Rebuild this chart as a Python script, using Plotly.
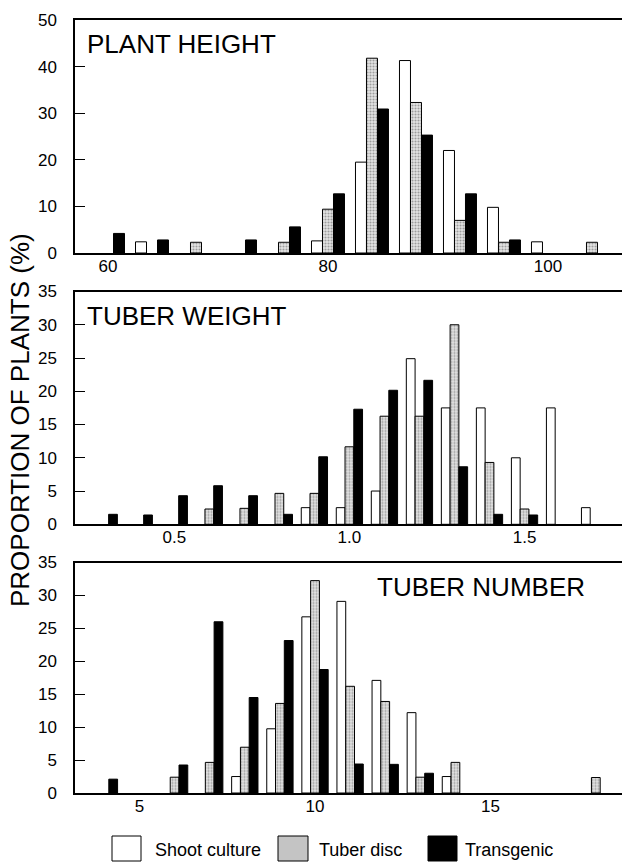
import plotly.graph_objects as go

# ---------------- data ----------------
series_names = ["Shoot culture", "Tuber disc", "Transgenic"]

height_bins = [60, 64, 68, 72, 76, 80, 84, 88, 92, 96, 100, 104]
height_shoot = [None, 2.4, None, None, None, 2.6, 19.5, 41.3, 22.0, 9.8, 2.4, None]
height_tuber = [None, None, 2.3, None, 2.3, 9.4, 41.8, 32.3, 7.0, 2.3, None, 2.3]
height_trans = [4.2, 2.8, None, 2.8, 5.6, 12.7, 30.9, 25.3, 12.7, 2.8, None, None]

weight_bins = [0.3, 0.4, 0.5, 0.6, 0.7, 0.8, 0.9, 1.0, 1.1, 1.2, 1.3, 1.4, 1.5, 1.6, 1.7]
weight_shoot = [None, None, None, None, None, None, 2.5, 2.5, 5.0, 24.9, 17.5, 17.5, 10.0, 17.5, 2.5]
weight_tuber = [None, None, None, 2.3, 2.4, 4.65, 4.65, 11.65, 16.25, 16.25, 30.0, 9.3, 2.3, None, None]
weight_trans = [1.5, 1.4, 4.3, 5.8, 4.3, 1.5, 10.15, 17.3, 20.15, 21.65, 8.65, 1.5, 1.4, None, None]

number_bins = [4, 5, 6, 7, 8, 9, 10, 11, 12, 13, 14, 15, 16, 17, 18]
number_shoot = [None, None, None, None, 2.5, 9.75, 26.75, 29.1, 17.1, 12.2, 2.5, None, None, None, None]
number_tuber = [None, None, 2.4, 4.65, 6.95, 13.6, 32.25, 16.2, 13.9, 2.4, 4.65, None, None, None, 2.35]
number_trans = [2.1, None, 4.25, 26.0, 14.5, 23.15, 18.75, 4.4, 4.35, 3.0, None, None, None, None, None]

panel_titles = ["PLANT HEIGHT", "TUBER WEIGHT", "TUBER NUMBER"]
y_title = "PROPORTION OF PLANTS (%)"

# ---------------- styling ----------------
W, H = 622, 864
ML, MR, MT, MB = 75, 0, 20, 71
PW, PH = W - ML - MR, H - MT - MB
FONT = "Liberation Sans, Arial, Helvetica, sans-serif"

def px_x(p):
    return (p - ML) / PW

def px_y(p):
    return (H - MB - p) / PH

styles = [
    dict(color="white", line=dict(color="black", width=1)),
    dict(color="#d0d0d0", line=dict(color="black", width=1),
         pattern=dict(shape=".", fgcolor="#555555", bgcolor="#e4e4e4", size=3, solidity=0.4)),
    dict(color="black", line=dict(color="black", width=1)),
]

fig = go.Figure()

panels = [
    (height_bins, [height_shoot, height_tuber, height_trans], "x", "y"),
    (weight_bins, [weight_shoot, weight_tuber, weight_trans], "x2", "y2"),
    (number_bins, [number_shoot, number_tuber, number_trans], "x3", "y3"),
]
for bins, vals, xa, ya in panels:
    for name, v, st in zip(series_names, vals, styles):
        fig.add_trace(go.Bar(x=bins, y=v, name=name, marker=st, xaxis=xa, yaxis=ya,
                             showlegend=False, offsetgroup=name))

axis_common = dict(showline=True, linecolor="black", linewidth=1.5, showgrid=False,
                   zeroline=False, tickfont=dict(family=FONT, size=17, color="black"))

domains = [
    [px_y(253), px_y(20)],
    [px_y(524.3), px_y(291.5)],
    [px_y(793), px_y(562.5)],
]
xranges = [[57.0, 106.73], [0.2165, 1.7783], [3.162, 18.746]]
xticks = [[60, 80, 100], [0.5, 1.0, 1.5], [5, 10, 15]]
xticktext = [["60", "80", "100"], ["0.5", "1.0", "1.5"], ["5", "10", "15"]]
yranges = [[0, 50], [0, 35], [0, 35]]
ydticks = [10, 5, 5]

layout_axes = {}
for i in range(3):
    sx = "" if i == 0 else str(i + 1)
    layout_axes["xaxis" + sx] = dict(axis_common, range=xranges[i], domain=[0, 1],
                                     anchor="y" + sx, mirror=True, ticks="",
                                     tickvals=xticks[i], ticktext=xticktext[i],
                                     ticklabelstandoff=-3)
    layout_axes["yaxis" + sx] = dict(axis_common, range=yranges[i], domain=domains[i],
                                     anchor="x" + sx, ticks="inside", ticklen=10,
                                     tickcolor="black", tickwidth=1, dtick=ydticks[i],
                                     tick0=0, ticklabelstandoff=13)

fig.update_layout(**layout_axes)

annotations = [
    dict(text=panel_titles[0], x=px_x(85), y=px_y(44), xanchor="left", yanchor="middle"),
    dict(text=panel_titles[1], x=px_x(85), y=px_y(316), xanchor="left", yanchor="middle"),
    dict(text=panel_titles[2], x=px_x(375), y=px_y(587), xanchor="left", yanchor="middle"),
]
for a in annotations:
    a.update(xref="paper", yref="paper", showarrow=False,
             font=dict(family=FONT, size=26, color="black"))

annotations.append(dict(text=y_title, x=px_x(20), y=px_y(420), xref="paper", yref="paper",
                        textangle=-90, showarrow=False, xanchor="center", yanchor="middle",
                        font=dict(family=FONT, size=26, color="black")))

# legend (manual, large swatches)
legend_boxes = [(112, 141), (278, 308), (428, 457)]
legend_text_x = [153, 317, 463]
legend_fill = ["white", "#c4c4c4", "black"]
shapes = []
for (x0, x1), tx, fc, name in zip(legend_boxes, legend_text_x, legend_fill, series_names):
    shapes.append(dict(type="rect", xref="paper", yref="paper",
                       x0=px_x(x0), x1=px_x(x1), y0=px_y(861), y1=px_y(836),
                       fillcolor=fc, line=dict(color="black", width=1)))
    annotations.append(dict(text=name, x=px_x(tx), y=px_y(850), xref="paper", yref="paper",
                            xanchor="left", yanchor="middle", showarrow=False,
                            font=dict(family=FONT, size=18, color="black")))

fig.update_layout(
    width=W, height=H,
    margin=dict(l=ML, r=MR, t=MT, b=MB),
    paper_bgcolor="white", plot_bgcolor="white",
    barmode="group", bargap=0.25, bargroupgap=0,
    annotations=annotations, shapes=shapes,
    showlegend=False,
    font=dict(family=FONT, color="black"),
)

fig.write_html("out.html",
               config={"displayModeBar": False},
               post_script="document.body.style.margin='0';document.body.style.padding='0';")
